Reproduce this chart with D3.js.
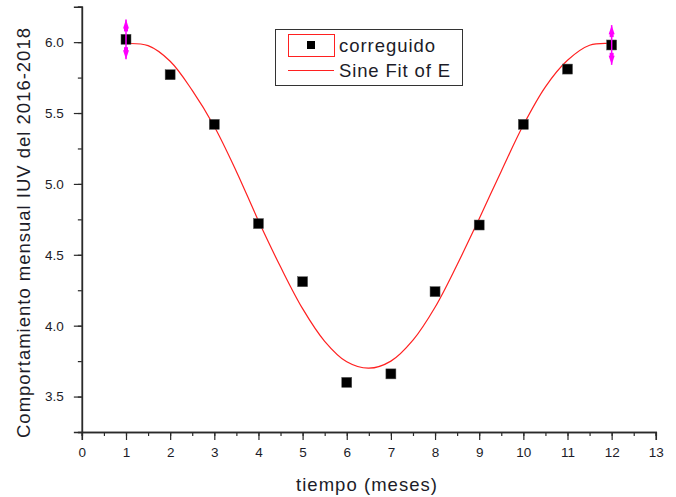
<!DOCTYPE html>
<html><head><meta charset="utf-8">
<script src="https://cdn.jsdelivr.net/npm/d3@7"></script>
<style>
html,body{margin:0;padding:0;background:#fff;}
svg text{font-family:"Liberation Sans",Arial,sans-serif;fill:#1c1c28;}
</style></head>
<body><svg id="c" width="676" height="497"></svg>
<script>
// Data
const months = [1,2,3,4,5,6,7,8,9,10,11,12];
const iuv = [6.02,5.77,5.42,4.72,4.31,3.60,3.66,4.24,4.71,5.42,5.81,5.98];
const errMonths = [1,12];
const errValues = [0.14,0.14];
const fitX = [1,1.5,2,2.5,3,3.5,4,4.5,5,5.5,6,6.5,7,7.5,8,8.5,9,9.5,10,10.5,11,11.5,12];
const fitY = [5.99,5.975,5.865,5.66,5.405,5.088,4.74,4.415,4.12,3.89,3.745,3.70,3.75,3.898,4.13,4.43,4.755,5.09,5.415,5.685,5.872,5.978,5.99];
const xTicks = [0,1,2,3,4,5,6,7,8,9,10,11,12,13];
const yTicks = [3.5,4.0,4.5,5.0,5.5,6.0];
const seriesNames = ["correguido","Sine Fit of E"];

const svg = d3.select("#c");
const x = d3.scaleLinear().domain([0,13]).range([81.85,655.8]);
const y = d3.scaleLinear().domain([3.25,6.25]).range([432,6.7]);
const axisColor = "#2a2a2a";

// X axis
const gx = svg.append("g").attr("transform","translate(0,432)");
gx.call(d3.axisBottom(x).tickValues(d3.range(0,13.01,0.5)).tickSize(4).tickFormat(""));
gx.call(g=>g.selectAll(".tick line").attr("stroke",axisColor).attr("stroke-width",1.2));
const gx2 = svg.append("g").attr("transform","translate(0,432)");
gx2.call(d3.axisBottom(x).tickValues(xTicks).tickSize(8).tickPadding(7).tickFormat(d3.format("d")));
gx2.selectAll(".tick line").attr("stroke",axisColor).attr("stroke-width",1.2);
gx2.selectAll("text").attr("font-size",13.5).attr("font-family","Liberation Sans, Arial");
[gx,gx2].forEach(g=>g.select(".domain").attr("stroke",axisColor).attr("stroke-width",1.5));

// Y axis
const gy = svg.append("g").attr("transform","translate(81.85,0)");
gy.call(d3.axisLeft(y).tickValues(d3.range(3.25,6.2501,0.25)).tickSize(4).tickFormat(""));
gy.selectAll(".tick line").attr("stroke",axisColor).attr("stroke-width",1.2);
const gy2 = svg.append("g").attr("transform","translate(81.85,0)");
gy2.call(d3.axisLeft(y).tickValues(yTicks).tickSize(8).tickPadding(10).tickFormat(d3.format(".1f")));
gy2.selectAll(".tick line").attr("stroke",axisColor).attr("stroke-width",1.2);
gy2.selectAll("text").attr("font-size",13.5).attr("font-family","Liberation Sans, Arial");
[gy,gy2].forEach(g=>g.select(".domain").attr("stroke",axisColor).attr("stroke-width",1.5));

// Titles
svg.append("text").attr("x",366.5).attr("y",491).attr("text-anchor","middle")
  .attr("font-size",18.5).attr("textLength",141).attr("lengthAdjust","spacing").text("tiempo (meses)");
svg.append("text").attr("transform",`translate(30,233) rotate(-90)`)
  .attr("text-anchor","middle").attr("font-size",18.5)
  .attr("textLength",410).attr("lengthAdjust","spacing")
  .text("Comportamiento mensual IUV del 2016-2018");

// Fit line
const fitData = fitX.map((d,i)=>[d,fitY[i]]);
svg.append("path").datum(fitData)
  .attr("d",d3.line().x(d=>x(d[0])).y(d=>y(d[1])).curve(d3.curveCatmullRom.alpha(0.5)))
  .attr("fill","none").attr("stroke","#ff2020").attr("stroke-width",1.2);

// Points
const pts = months.map((m,i)=>({m,v:iuv[i]}));
svg.append("g").selectAll("rect").data(pts).join("rect")
  .attr("x",d=>x(d.m)-5).attr("y",d=>y(d.v)-5).attr("width",10).attr("height",10)
  .attr("fill","#000").attr("stroke","#555").attr("stroke-width",0.5);

// Error bars (magenta arrows)
const errG = svg.append("g");
errMonths.forEach((m,i)=>{
  const v = iuv[months.indexOf(m)];
  const cx = x(m), top = y(v+errValues[i]), bot = y(v-errValues[i]);
  errG.append("line").attr("x1",cx).attr("x2",cx).attr("y1",top).attr("y2",bot)
    .attr("stroke","#ff00ff").attr("stroke-width",1.5);
  errG.append("path").attr("d",`M${cx},${top} L${cx-3},${top+9} L${cx+3},${top+9} Z`).attr("fill","#ff00ff");
  errG.append("path").attr("d",`M${cx},${bot} L${cx-3},${bot-9} L${cx+3},${bot-9} Z`).attr("fill","#ff00ff");
  errG.append("rect").attr("x",cx-2).attr("y",top+8).attr("width",4).attr("height",4).attr("fill","#ff00ff");
  errG.append("rect").attr("x",cx-2).attr("y",bot-12).attr("width",4).attr("height",4).attr("fill","#ff00ff");
});

// Legend
const lg = svg.append("g");
lg.append("rect").attr("x",275.5).attr("y",29.5).attr("width",187).attr("height",56)
  .attr("fill","#fff").attr("stroke","#333").attr("stroke-width",1);
lg.append("rect").attr("x",288.5).attr("y",34.5).attr("width",46).attr("height",22)
  .attr("fill","none").attr("stroke","#ff2020").attr("stroke-width",1);
lg.append("rect").attr("x",307).attr("y",41).attr("width",8).attr("height",8).attr("fill","#000");
lg.append("line").attr("x1",288).attr("x2",334).attr("y1",70.5).attr("y2",70.5)
  .attr("stroke","#ff2020").attr("stroke-width",1.2);
lg.append("text").attr("x",339).attr("y",51.5).attr("font-size",18.5)
  .attr("textLength",96).attr("lengthAdjust","spacing").text(seriesNames[0]);
lg.append("text").attr("x",339).attr("y",76.5).attr("font-size",18.5)
  .attr("textLength",111).attr("lengthAdjust","spacing").text(seriesNames[1]);
</script></body></html>
